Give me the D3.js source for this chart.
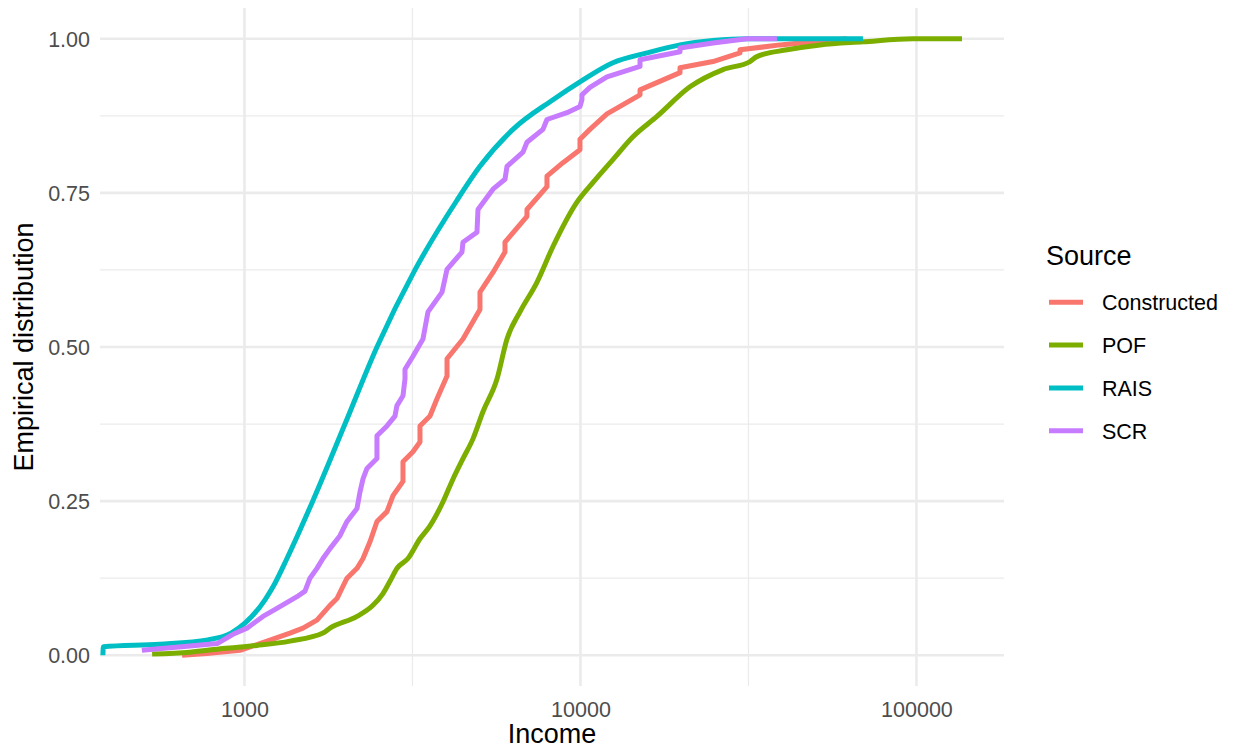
<!DOCTYPE html>
<html>
<head>
<meta charset="utf-8">
<script src="https://cdn.jsdelivr.net/npm/d3@7"></script>
<style>
  body { margin: 0; background: #fff; }
  text { font-family: "Liberation Sans", Arial, sans-serif; }
</style>
</head>
<body>
<svg id="chart" width="1238" height="756"></svg>
<script>
// series: income values and ECDF values
const sources = ["Constructed", "POF", "RAIS", "SCR"]
const colours = ["#F8766D", "#7CAE00", "#00BFC4", "#C77CFF"]

const constructedIncome = [652, 773, 970, 1167, 1366, 1493, 1643, 1797, 1885, 1964, 2019, 2162, 2253, 2363, 2479, 2655, 2767, 2963, 2963, 3173, 3329, 3329, 3566, 3741, 4007, 4007, 4470, 5022, 5022, 5490, 5961, 5961, 6930, 6930, 7948, 7948, 8869, 9966, 9966, 10670, 11990, 15040, 15040, 19780, 19780, 24800, 29840, 29840, 39240, 49200, 62120]
const constructedCdf = [0, 0.003, 0.008, 0.023, 0.036, 0.044, 0.057, 0.081, 0.092, 0.112, 0.125, 0.141, 0.157, 0.184, 0.217, 0.233, 0.259, 0.282, 0.314, 0.330, 0.346, 0.372, 0.388, 0.416, 0.453, 0.481, 0.513, 0.561, 0.589, 0.621, 0.654, 0.670, 0.712, 0.723, 0.760, 0.777, 0.799, 0.820, 0.837, 0.853, 0.878, 0.909, 0.917, 0.945, 0.953, 0.963, 0.977, 0.982, 0.990, 0.995, 1.0]

const pofIncome = [531, 688, 863, 1089, 1366, 1712, 1797, 2162, 2412, 2583, 2710, 2843, 3066, 3329, 3566, 3899, 4175, 4470, 4786, 5126, 5643, 6044, 6606, 7421, 8283, 9763, 10900, 12490, 14330, 16890, 21180, 26560, 31950, 33510, 41180, 51620, 69300, 97630, 136600]
const pofCdf = [0.002, 0.005, 0.011, 0.016, 0.023, 0.036, 0.044, 0.063, 0.081, 0.100, 0.120, 0.141, 0.157, 0.189, 0.210, 0.249, 0.286, 0.319, 0.351, 0.395, 0.448, 0.513, 0.557, 0.605, 0.663, 0.735, 0.767, 0.804, 0.841, 0.874, 0.922, 0.950, 0.963, 0.971, 0.982, 0.990, 0.995, 1.0, 1.0]

const raisIncome = [379, 380, 560, 778, 912, 1003, 1151, 1216, 1338, 1596, 1991, 2479, 3217, 4290, 5022, 6298, 8283, 9966, 12490, 15770, 19780, 24800, 31300, 69300]
const raisCdf = [0, 0.014, 0.018, 0.025, 0.036, 0.052, 0.090, 0.111, 0.157, 0.250, 0.375, 0.500, 0.625, 0.738, 0.793, 0.853, 0.901, 0.930, 0.961, 0.977, 0.990, 0.997, 1.0, 1.0]

const scrIncome = [495, 688, 829, 924, 1017, 1135, 1249, 1433, 1514, 1566, 1643, 1712, 1797, 1924, 2019, 2162, 2207, 2253, 2315, 2479, 2479, 2655, 2805, 2843, 2963, 3004, 3004, 3173, 3398, 3517, 3872, 4007, 4439, 4470, 4920, 4954, 5490, 5961, 6044, 6744, 6930, 7733, 7948, 9115, 9966, 10100, 10100, 10670, 11990, 15040, 15040, 19780, 19780, 24800, 31300, 38440]
const scrCdf = [0.008, 0.015, 0.019, 0.034, 0.044, 0.063, 0.076, 0.095, 0.104, 0.125, 0.141, 0.157, 0.173, 0.194, 0.217, 0.238, 0.265, 0.286, 0.303, 0.319, 0.356, 0.372, 0.388, 0.405, 0.421, 0.448, 0.464, 0.485, 0.513, 0.557, 0.589, 0.626, 0.654, 0.670, 0.686, 0.723, 0.756, 0.772, 0.793, 0.816, 0.832, 0.853, 0.869, 0.880, 0.890, 0.901, 0.909, 0.921, 0.938, 0.955, 0.966, 0.979, 0.985, 0.993, 1.0, 1.0]

const xMajor = [1000, 10000, 100000]
const xMinor = [316.2, 3162, 31623]
const yMajor = [0, 0.25, 0.5, 0.75, 1]
const yMinor = [0.125, 0.375, 0.625, 0.875]

// RAIS and POF are dense samples, drawn smooth; the others keep their steps
const smooth = ["POF", "RAIS"]

const series = [
  [constructedIncome, constructedCdf],
  [pofIncome, pofCdf],
  [raisIncome, raisCdf],
  [scrIncome, scrCdf]
].map((s, i) => ({ name: sources[i], points: s[0].map((v, j) => [v, s[1][j]]) }))

const panelLeft = 100, panelRight = 1004, panelTop = 7.9, panelBottom = 686.1

const svg = d3.select("#chart")
const x = d3.scaleLog().domain([371.5, 182200]).range([panelLeft, panelRight])
const y = d3.scaleLinear().domain([-0.05, 1.05]).range([panelBottom, panelTop])
const colour = d3.scaleOrdinal().domain(sources).range(colours)

// grid
const grid = svg.append("g").attr("stroke", "#EBEBEB")
grid.selectAll(".ymin").data(yMinor).join("line")
  .attr("x1", panelLeft).attr("x2", panelRight)
  .attr("y1", d => y(d)).attr("y2", d => y(d))
  .attr("stroke-width", 1.3)
grid.selectAll(".xmin").data(xMinor.filter(d => x(d) > panelLeft)).join("line")
  .attr("y1", panelTop).attr("y2", panelBottom)
  .attr("x1", d => x(d)).attr("x2", d => x(d))
  .attr("stroke-width", 1.3)
grid.selectAll(".ymaj").data(yMajor).join("line")
  .attr("x1", panelLeft).attr("x2", panelRight)
  .attr("y1", d => y(d)).attr("y2", d => y(d))
  .attr("stroke-width", 2.6)
grid.selectAll(".xmaj").data(xMajor).join("line")
  .attr("y1", panelTop).attr("y2", panelBottom)
  .attr("x1", d => x(d)).attr("x2", d => x(d))
  .attr("stroke-width", 2.6)

// ecdf lines
svg.append("clipPath").attr("id", "clip")
  .append("rect").attr("x", panelLeft).attr("y", panelTop)
  .attr("width", panelRight - panelLeft).attr("height", panelBottom - panelTop)

const stepLine = d3.line().x(d => x(d[0])).y(d => y(d[1]))
const smoothLine = d3.line().x(d => x(d[0])).y(d => y(d[1])).curve(d3.curveMonotoneX)
svg.append("g").attr("clip-path", "url(#clip)")
  .selectAll("path").data(series).join("path")
  .attr("d", d => smooth.includes(d.name) ? smoothLine(d.points) : stepLine(d.points))
  .attr("fill", "none")
  .attr("stroke", d => colour(d.name))
  .attr("stroke-width", 5)
  .attr("stroke-linejoin", "round")

// axes
const xAxis = svg.append("g").attr("transform", "translate(0," + panelBottom + ")")
  .call(d3.axisBottom(x).tickValues(xMajor).tickFormat(d3.format("d")).tickSize(0))
xAxis.select(".domain").remove()
xAxis.selectAll("text").attr("y", 31).attr("dy", null)
  .attr("font-size", 21.5).attr("fill", "#4D4D4D")
  .attr("font-family", "Liberation Sans, Arial, sans-serif")

const yAxis = svg.append("g").attr("transform", "translate(" + panelLeft + ",0)")
  .call(d3.axisLeft(y).tickValues(yMajor).tickFormat(d3.format(".2f")).tickSize(0).tickPadding(10))
yAxis.select(".domain").remove()
yAxis.selectAll("text").attr("dy", "0.34em")
  .attr("font-size", 21.5).attr("fill", "#4D4D4D")
  .attr("font-family", "Liberation Sans, Arial, sans-serif")

svg.append("text")
  .attr("x", (panelLeft + panelRight) / 2).attr("y", 743)
  .attr("text-anchor", "middle").attr("font-size", 27)
  .text("Income")

svg.append("text")
  .attr("transform", "translate(33," + (panelTop + panelBottom) / 2 + ") rotate(-90)")
  .attr("text-anchor", "middle").attr("font-size", 27)
  .text("Empirical distribution")

// legend
const ly = d3.scalePoint().domain(sources).range([302.3, 430.7])
const legend = svg.append("g")
legend.append("text").attr("x", 1046).attr("y", 265)
  .attr("font-size", 27).text("Source")
legend.selectAll("line").data(sources).join("line")
  .attr("x1", 1049).attr("x2", 1083)
  .attr("y1", d => ly(d)).attr("y2", d => ly(d))
  .attr("stroke", d => colour(d)).attr("stroke-width", 5)
legend.selectAll(".lab").data(sources).join("text")
  .attr("x", 1102).attr("y", d => ly(d) + 8)
  .attr("font-size", 21.5).text(d => d)
</script>
</body>
</html>
